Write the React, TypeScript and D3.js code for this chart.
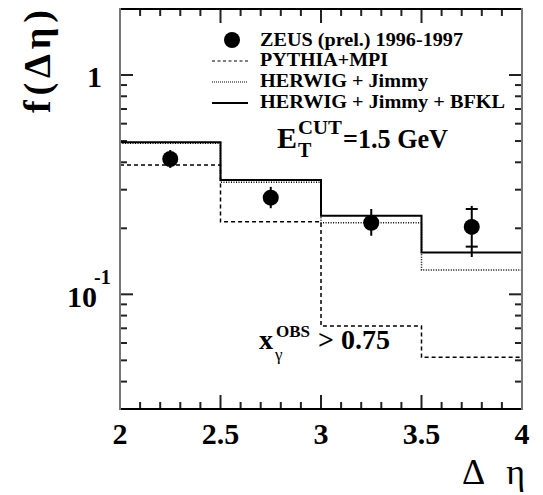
import * as d3 from "d3";
import React, { useEffect, useRef } from "react";

// bin edges in delta eta
const binEdges = [2, 2.5, 3, 3.5, 4];

// model predictions, one value per bin
const pythiaMPI = [0.389, 0.214, 0.0717, 0.0516];
const herwigJimmy = [0.488, 0.324, 0.212, 0.129];
const herwigBFKL = [0.494, 0.332, 0.228, 0.155];

// ZEUS data points
const zeusEta = [2.25, 2.75, 3.25, 3.75];
const zeusValue = [0.414, 0.276, 0.212, 0.203];
const zeusStatLo = [0.402, 0.268, 0.206, 0.165];
const zeusStatHi = [0.428, 0.285, 0.218, 0.245];
const zeusTotLo = [0.377, 0.247, 0.185, 0.148];
const zeusTotHi = [0.455, 0.309, 0.245, 0.253];

const xMajor = [2, 2.5, 3, 3.5, 4];
const xTickLabels = ["2", "2.5", "3", "3.5", "4"];
const yMajor = [0.1, 1];
const yMinor = [0.03, 0.04, 0.05, 0.06, 0.07, 0.08, 0.09, 0.2, 0.3, 0.4, 0.5, 0.6, 0.7, 0.8, 0.9, 2];

const legendLabels = ["ZEUS (prel.) 1996-1997", "PYTHIA+MPI", "HERWIG + Jimmy", "HERWIG + Jimmy + BFKL"];
const legendWidths = [203, 128, 168, 245];

const serif = "'Liberation Serif', 'Times New Roman', serif";

export default function App() {
  const ref = useRef<SVGSVGElement>(null);

  useEffect(() => {
    const svg = d3.select(ref.current);
    svg.selectAll("*").remove();

    const margin = { top: 9, right: 21, bottom: 86, left: 120 };
    const width = 543;
    const height = 495;

    const x = d3.scaleLinear().domain([2, 4]).range([margin.left, width - margin.right]);
    const y = d3.scaleLog().domain([0.03, 2]).range([height - margin.bottom, margin.top]);

    const x0 = x(2), x1 = x(4), y0 = y(0.03), y1 = y(2);

    // ticks
    const ticks = svg.append("g").attr("stroke", "#222").attr("stroke-width", 2);
    const xMinor = d3.range(21).map(i => 2 + i * 0.1).filter(v => !xMajor.some(m => Math.abs(m - v) < 1e-6));
    xMinor.forEach(v => {
      ticks.append("line").attr("x1", x(v)).attr("x2", x(v)).attr("y1", y0).attr("y2", y0 - 7);
      ticks.append("line").attr("x1", x(v)).attr("x2", x(v)).attr("y1", y1).attr("y2", y1 + 7);
    });
    xMajor.forEach(v => {
      ticks.append("line").attr("x1", x(v)).attr("x2", x(v)).attr("y1", y0).attr("y2", y0 - 14);
      ticks.append("line").attr("x1", x(v)).attr("x2", x(v)).attr("y1", y1).attr("y2", y1 + 14);
    });
    yMinor.forEach(v => {
      ticks.append("line").attr("x1", x0).attr("x2", x0 + 7).attr("y1", y(v)).attr("y2", y(v));
      ticks.append("line").attr("x1", x1).attr("x2", x1 - 7).attr("y1", y(v)).attr("y2", y(v));
    });
    yMajor.forEach(v => {
      ticks.append("line").attr("x1", x0).attr("x2", x0 + 13).attr("y1", y(v)).attr("y2", y(v));
      ticks.append("line").attr("x1", x1).attr("x2", x1 - 13).attr("y1", y(v)).attr("y2", y(v));
    });

    // histograms
    const step = d3.line<[number, number]>()
      .x(d => x(d[0]))
      .y(d => y(d[1]))
      .curve(d3.curveStepAfter);
    const histPoints = (vals: number[]) =>
      binEdges.map((e, i) => [e, vals[Math.min(i, vals.length - 1)]] as [number, number]);

    svg.append("path").attr("d", step(histPoints(pythiaMPI)))
      .attr("fill", "none").attr("stroke", "#000").attr("stroke-width", 1.5)
      .attr("stroke-dasharray", "4,3");
    svg.append("path").attr("d", step(histPoints(herwigJimmy)))
      .attr("fill", "none").attr("stroke", "#000").attr("stroke-width", 1.5)
      .attr("stroke-dasharray", "1,1.5");
    svg.append("path").attr("d", step(histPoints(herwigBFKL)))
      .attr("fill", "none").attr("stroke", "#000").attr("stroke-width", 2);

    // data points
    const pts = svg.append("g");
    zeusEta.forEach((e, i) => {
      pts.append("line").attr("x1", x(e)).attr("x2", x(e))
        .attr("y1", y(zeusTotLo[i])).attr("y2", y(zeusTotHi[i]))
        .attr("stroke", "#000").attr("stroke-width", 2);
      [zeusStatLo[i], zeusStatHi[i]].forEach(s => {
        pts.append("line").attr("x1", x(e) - 6).attr("x2", x(e) + 6)
          .attr("y1", y(s)).attr("y2", y(s))
          .attr("stroke", "#000").attr("stroke-width", 2);
      });
      pts.append("circle").attr("cx", x(e)).attr("cy", y(zeusValue[i])).attr("r", 8).attr("fill", "#000");
    });

    // frame
    svg.append("line").attr("x1", x0).attr("x2", x1).attr("y1", y0).attr("y2", y0).attr("stroke", "#000").attr("stroke-width", 2);
    svg.append("line").attr("x1", x0).attr("x2", x1).attr("y1", y1).attr("y2", y1).attr("stroke", "#000").attr("stroke-width", 2);
    svg.append("line").attr("x1", x0).attr("x2", x0).attr("y1", y0 + 1).attr("y2", y1 - 1).attr("stroke", "#777").attr("stroke-width", 2);
    svg.append("line").attr("x1", x1).attr("x2", x1).attr("y1", y0 + 1).attr("y2", y1 - 1).attr("stroke", "#777").attr("stroke-width", 2);

    // tick labels
    const bold = (g: d3.Selection<any, any, any, any>) =>
      g.attr("font-family", serif).attr("font-weight", "bold").attr("fill", "#000");
    xMajor.forEach((v, i) => {
      svg.append("text").call(bold).attr("x", x(v)).attr("y", y0 + 35)
        .attr("text-anchor", "middle").attr("font-size", 30).text(xTickLabels[i]);
    });
    svg.append("text").call(bold).attr("x", 102).attr("y", y(1) + 12)
      .attr("text-anchor", "end").attr("font-size", 30).text("1");
    svg.append("text").call(bold).attr("x", 97).attr("y", y(0.1) + 13)
      .attr("text-anchor", "end").attr("font-size", 30).text("10");
    svg.append("text").call(bold).attr("x", 94).attr("y", y(0.1) - 10)
      .attr("font-size", 20).text("-1");

    // axis titles
    svg.append("text").call(bold).attr("transform", "translate(50,10) rotate(-90)")
      .attr("text-anchor", "end").attr("font-size", 38)
      .attr("textLength", 103).attr("lengthAdjust", "spacing").text("f(Δη)");
    svg.append("text").attr("font-family", serif).attr("fill", "#000")
      .attr("x", 525).attr("y", 484).attr("text-anchor", "end").attr("font-size", 36)
      .attr("textLength", 63).attr("lengthAdjust", "spacing").text("Δ η");

    // legend
    const lx = 260;
    const ly = [46, 66, 87, 108];
    svg.append("circle").attr("cx", 232).attr("cy", ly[0] - 6).attr("r", 8).attr("fill", "#000");
    svg.append("line").attr("x1", 212).attr("x2", 248).attr("y1", ly[1] - 5).attr("y2", ly[1] - 5)
      .attr("stroke", "#000").attr("stroke-width", 1.2).attr("stroke-dasharray", "3,2.5");
    svg.append("line").attr("x1", 212).attr("x2", 248).attr("y1", ly[2] - 5).attr("y2", ly[2] - 5)
      .attr("stroke", "#000").attr("stroke-width", 1.2).attr("stroke-dasharray", "1,1");
    svg.append("line").attr("x1", 212).attr("x2", 248).attr("y1", ly[3] - 5).attr("y2", ly[3] - 5)
      .attr("stroke", "#000").attr("stroke-width", 2);
    legendLabels.forEach((t, i) => {
      svg.append("text").call(bold).attr("x", lx).attr("y", ly[i]).attr("font-size", 19)
        .attr("textLength", legendWidths[i]).attr("lengthAdjust", "spacingAndGlyphs").text(t);
    });

    // E_T^CUT annotation
    const et = svg.append("g").call(bold);
    et.append("text").attr("x", 277).attr("y", 148).attr("font-size", 30).text("E");
    et.append("text").attr("x", 298).attr("y", 157).attr("font-size", 20).text("T");
    et.append("text").attr("x", 298).attr("y", 134).attr("font-size", 19)
      .attr("textLength", 44).attr("lengthAdjust", "spacingAndGlyphs").text("CUT");
    et.append("text").attr("x", 343).attr("y", 148).attr("font-size", 27)
      .attr("textLength", 105).attr("lengthAdjust", "spacingAndGlyphs").text("=1.5 GeV");

    // x_gamma^OBS annotation
    const xg = svg.append("g").call(bold);
    xg.append("text").attr("x", 259).attr("y", 349).attr("font-size", 28).text("x");
    xg.append("text").attr("x", 275).attr("y", 360).attr("font-size", 17).attr("font-weight", "normal").text("γ");
    xg.append("text").attr("x", 276).attr("y", 337).attr("font-size", 17).text("OBS");
    xg.append("text").attr("x", 318).attr("y", 349).attr("font-size", 28).text("> 0.75");
  }, []);

  return (
    <svg ref={ref} width={543} height={495} viewBox="0 0 543 495"
      style={{ position: "absolute", left: 0, top: 0, background: "#fff" }} />
  );
}
